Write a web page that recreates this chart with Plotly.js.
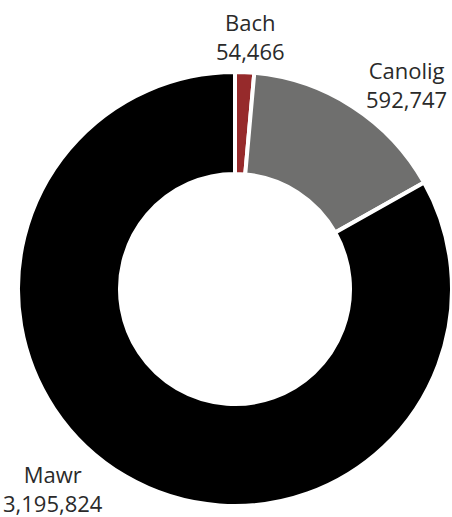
<!DOCTYPE html>
<html>
<head>
<meta charset="utf-8">
<script src="https://cdn.plot.ly/plotly-3.0.1.min.js"></script>
<style>html,body{margin:0;padding:0;background:#fff;}#chart{width:452px;height:517px;}</style>
</head>
<body>
<div id="chart"></div>
<script>
const categories = ["Bach", "Canolig", "Mawr"];
const values = [54466, 592747, 3195824];
const colors = ["#962a2b", "#6f6f6e", "#000000"];

// label placement (paper coordinates of the plot area), layout only
const labelX = [0.5346, 0.896, 0.0806];
const labelY = [1.0776, 0.968, 0.044];

const fmt = v => v.toLocaleString("en-US");

const annotations = categories.map((c, i) => ({
  xref: "paper", yref: "paper",
  x: labelX[i], y: labelY[i],
  xanchor: "center", yanchor: "middle",
  align: "center",
  showarrow: false,
  text: c + "<br>" + fmt(values[i]),
  font: {family: "Open Sans, Noto Sans, sans-serif", size: 22, color: "#2a2a2a"}
}));

Plotly.newPlot("chart", [{
  type: "pie",
  labels: categories,
  values: values,
  sort: false,
  direction: "clockwise",
  rotation: 0,
  hole: 0.53,
  marker: {colors: colors, line: {color: "#ffffff", width: 4}},
  textinfo: "none",
  hoverinfo: "none",
  showlegend: false
}], {
  width: 452, height: 517,
  margin: {l: 18, r: 0, t: 70, b: 9},
  paper_bgcolor: "#ffffff",
  showlegend: false,
  annotations: annotations
}, {displayModeBar: false, staticPlot: true});
</script>
</body>
</html>
